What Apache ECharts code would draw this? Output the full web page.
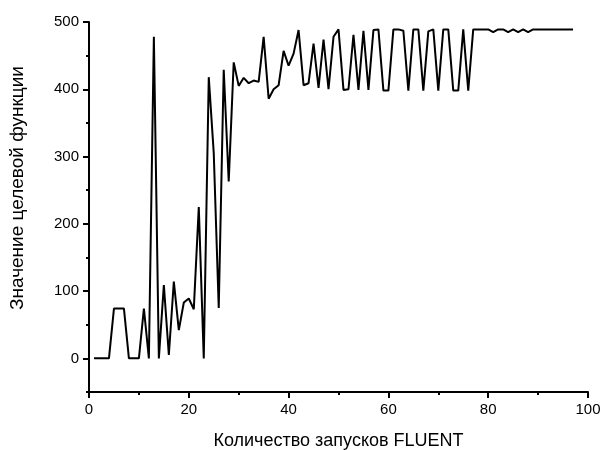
<!DOCTYPE html>
<html>
<head>
<meta charset="utf-8">
<script src="https://cdn.jsdelivr.net/npm/echarts@6/dist/echarts.min.js"></script>
<style>
  html, body { margin: 0; padding: 0; background: #fff; }
  #chart { width: 601px; height: 450px; }
</style>
</head>
<body>
<div id="chart"></div>
<script>
// номер запуска FLUENT
var runs = [
  1, 2, 3, 4, 5, 6, 7, 8, 9, 10,
  11, 12, 13, 14, 15, 16, 17, 18, 19, 20,
  21, 22, 23, 24, 25, 26, 27, 28, 29, 30,
  31, 32, 33, 34, 35, 36, 37, 38, 39, 40,
  41, 42, 43, 44, 45, 46, 47, 48, 49, 50,
  51, 52, 53, 54, 55, 56, 57, 58, 59, 60,
  61, 62, 63, 64, 65, 66, 67, 68, 69, 70,
  71, 72, 73, 74, 75, 76, 77, 78, 79, 80,
  81, 82, 83, 84, 85, 86, 87, 88, 89, 90,
  91, 92, 93, 94, 95, 96, 97
]
// значение целевой функции
var objective = [
  0, 0, 0, 0, 74, 74, 74, 0, 0, 0,
  74, 0, 478, 0, 109, 5, 114, 42, 83, 89,
  73, 225, 0, 418, 305, 75, 429, 263, 440, 405,
  417, 409, 413, 411, 478, 386, 400, 406, 457, 435,
  453, 488, 406, 409, 468, 402, 474, 400, 478, 489,
  399, 400, 481, 399, 487, 399, 488, 489, 398, 398,
  489, 489, 487, 398, 489, 489, 398, 486, 489, 398,
  489, 489, 398, 398, 489, 398, 489, 489, 489, 489,
  485, 489, 489, 485, 489, 485, 489, 485, 489, 489,
  489, 489, 489, 489, 489, 489, 489
]
var yMajorTicks = [0, 100, 200, 300, 400, 500]
var yMinorTicks = [-50, 50, 150, 250, 350, 450]

var font = 'Liberation Sans, Arial, sans-serif'
var chart = echarts.init(document.getElementById('chart'))
var points = runs.map(function (r, i) { return [r, objective[i]] })

var option = {
  animation: false,
  backgroundColor: '#fff',
  grid: { left: 89, right: 13, top: 22, bottom: 58, outerBoundsMode: 'none' },
  xAxis: {
    type: 'value',
    min: 0,
    max: 100,
    interval: 20,
    name: 'Количество запусков FLUENT',
    nameLocation: 'middle',
    nameGap: 40,
    nameTextStyle: { fontFamily: font, fontSize: 18, color: '#000' },
    axisLine: { onZero: false, lineStyle: { color: '#000', width: 2 } },
    axisTick: { length: 6, lineStyle: { color: '#000', width: 2 } },
    minorTick: { show: true, splitNumber: 2, length: 3, lineStyle: { color: '#000', width: 2 } },
    axisLabel: { fontFamily: font, fontSize: 15, color: '#000', margin: 10 },
    splitLine: { show: false }
  },
  yAxis: [
    {
      type: 'value',
      min: -50,
      max: 500,
      name: 'Значение целевой функции',
      nameLocation: 'middle',
      nameGap: 62,
      nameTextStyle: { fontFamily: font, fontSize: 19, color: '#000', padding: [0, 0, 0, 38] },
      axisLine: { show: true, onZero: false, lineStyle: { color: '#000', width: 2 } },
      axisTick: { show: true, length: 6, customValues: yMajorTicks, lineStyle: { color: '#000', width: 2 } },
      axisLabel: { fontFamily: font, fontSize: 15, color: '#000', margin: 10, customValues: yMajorTicks },
      splitLine: { show: false }
    },
    {
      type: 'value',
      position: 'left',
      min: -50,
      max: 500,
      axisLine: { show: false },
      axisTick: { show: true, length: 3, customValues: yMinorTicks, lineStyle: { color: '#000', width: 2 } },
      axisLabel: { show: false },
      splitLine: { show: false }
    }
  ],
  series: [{
    type: 'line',
    data: points,
    yAxisIndex: 0,
    showSymbol: false,
    lineStyle: { color: '#000', width: 2 },
    z: 3
  }]
}
chart.setOption(option)
</script>
</body>
</html>
